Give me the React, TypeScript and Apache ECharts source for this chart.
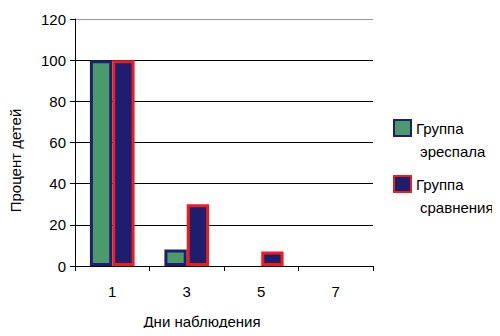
import React, { useEffect, useRef } from "react";
import * as echarts from "echarts";

const categories = ["1", "3", "5", "7"];
const seriesNames = ["Группа эреспала", "Группа сравнения"];
const erespalValues = [100, 8, 0, 0];
const comparisonValues = [100, 30, 7, 0];
const yTicks = [0, 20, 40, 60, 80, 100, 120];

const GREEN = "#4a9a6c";
const NAVY = "#1e1e6e";
const RED = "#f01c1c";
const FONT = "Liberation Sans, Arial, sans-serif";
const FS = 15;

function toData(values: number[]) {
  return values.map((v) => (v === 0 ? { value: v, itemStyle: { borderWidth: 0, opacity: 0 } } : v));
}

function legendFor(name: string, top: number, second: string) {
  return {
    data: [name],
    orient: "vertical",
    left: 393,
    top,
    padding: 0,
    icon: "rect",
    itemWidth: 17,
    itemHeight: 16,
    itemGap: 0,
    selectedMode: false,
    formatter: () => `{a|Группа}\n{b|${second}}`,
    textStyle: {
      fontFamily: FONT,
      fontSize: FS,
      color: "#000",
      padding: [23, 0, 0, 0],
      rich: {
        a: { fontFamily: FONT, fontSize: FS, color: "#000", lineHeight: 23 },
        b: { fontFamily: FONT, fontSize: FS, color: "#000", lineHeight: 23, padding: [0, 0, 0, 4] },
      },
    },
  };
}

export default function App() {
  const ref = useRef<HTMLDivElement>(null);
  useEffect(() => {
    if (!ref.current) return;
    const chart = echarts.init(ref.current, undefined, { renderer: "svg" });
    chart.setOption({
      animation: false,
      backgroundColor: "#fff",
      grid: { left: 75, right: 127, top: 19, bottom: 70 },
      legend: [
        legendFor(seriesNames[0], 119, "эреспала"),
        legendFor(seriesNames[1], 175, "сравнения"),
      ],
      xAxis: {
        type: "category",
        data: categories,
        name: "Дни наблюдения",
        nameLocation: "middle",
        nameGap: 48,
        nameTextStyle: { fontFamily: FONT, fontSize: FS, color: "#000", padding: [0, 44, 0, 0] },
        axisLine: { lineStyle: { color: "#000", width: 1 } },
        axisTick: { show: true, alignWithLabel: false, length: 5, lineStyle: { color: "#000" } },
        axisLabel: { fontFamily: FONT, fontSize: FS, color: "#000", margin: 18 },
      },
      yAxis: {
        type: "value",
        min: yTicks[0],
        max: yTicks[yTicks.length - 1],
        interval: 20,
        name: "Процент детей",
        nameLocation: "middle",
        nameGap: 52,
        nameTextStyle: { fontFamily: FONT, fontSize: FS, color: "#000", padding: [0, 36, 0, 0] },
        axisLine: { show: true, lineStyle: { color: "#000", width: 1 } },
        axisTick: { show: true, length: 5, lineStyle: { color: "#000" } },
        axisLabel: { fontFamily: FONT, fontSize: FS, color: "#000", margin: 9 },
        splitLine: {
          show: true,
          lineStyle: { color: ["#000", "#000", "#000", "#000", "#000", "#000", "#999"], width: 1 },
        },
      },
      series: [
        {
          name: seriesNames[0],
          type: "bar",
          data: toData(erespalValues),
          barGap: "0%",
          barCategoryGap: "40%",
          itemStyle: { color: GREEN, borderColor: NAVY, borderWidth: 3 },
        },
        {
          name: seriesNames[1],
          type: "bar",
          data: toData(comparisonValues),
          barGap: "0%",
          barCategoryGap: "40%",
          itemStyle: { color: NAVY, borderColor: RED, borderWidth: 3 },
        },
      ],
    });
    return () => chart.dispose();
  }, []);
  return <div ref={ref} style={{ width: 500, height: 336, margin: -8 }} />;
}
